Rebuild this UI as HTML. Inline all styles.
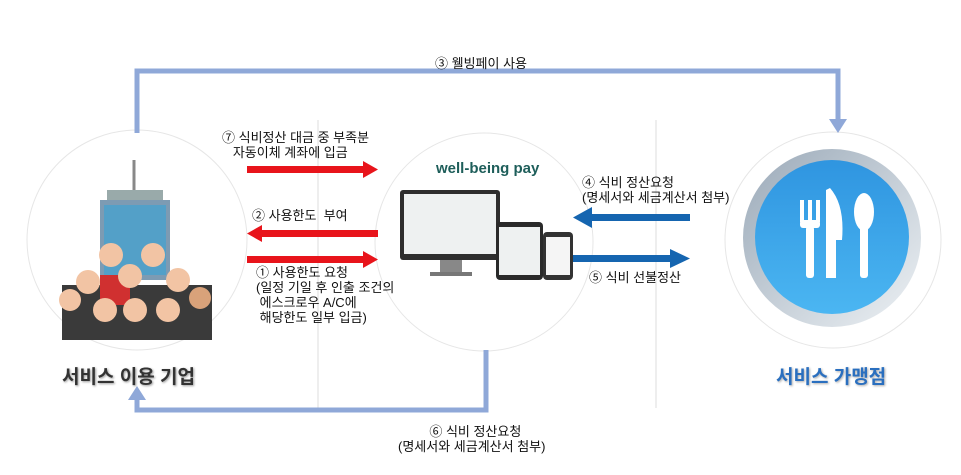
<!DOCTYPE html>
<html><head><meta charset="utf-8"><style>
body{margin:0;width:961px;height:475px;background:#fff;position:relative;overflow:hidden;font-family:"Liberation Sans","Noto Sans CJK KR",sans-serif;}
.t{position:absolute;font-size:13px;color:#111;line-height:15px;white-space:nowrap;}
</style></head><body>
<svg width="961" height="475" style="position:absolute;left:0;top:0">
<defs><linearGradient id="bg" x1="0" y1="0" x2="0" y2="1"><stop offset="0" stop-color="#2f95e0"/><stop offset="1" stop-color="#4bb6f2"/></linearGradient>
<linearGradient id="pg" x1="0" y1="0" x2="1" y2="1"><stop offset="0" stop-color="#9aa9b8"/><stop offset="1" stop-color="#eef2f5"/></linearGradient></defs>
<line x1="318" y1="120" x2="318" y2="408" stroke="#ddd" stroke-width="1"/>
<line x1="656" y1="120" x2="656" y2="408" stroke="#ddd" stroke-width="1"/>
<circle cx="137" cy="240" r="110" fill="#fff" stroke="#e6e6e6"/>
<circle cx="484" cy="242" r="109" fill="#fff" stroke="#e6e6e6"/>
<circle cx="833" cy="240" r="108" fill="#fff" stroke="#e6e6e6"/>
<path d="M137 133 V71 H838 V120" fill="none" stroke="#8fa8d8" stroke-width="5"/>
<polygon points="829,119 847,119 838,133" fill="#8fa8d8"/>
<path d="M486 350 V410 H137 V398" fill="none" stroke="#8fa8d8" stroke-width="5"/>
<polygon points="128,400 146,400 137,386" fill="#8fa8d8"/>
<rect x="247" y="166" width="118" height="7" fill="#e8141b"/><polygon points="363,161 378,169.5 363,178" fill="#e8141b"/>
<rect x="260" y="230" width="118" height="7" fill="#e8141b"/><polygon points="262,225 247,233.5 262,242" fill="#e8141b"/>
<rect x="247" y="256" width="118" height="7" fill="#e8141b"/><polygon points="363,251 378,259.5 363,268" fill="#e8141b"/>
<rect x="590" y="214" width="100" height="7" fill="#1565b0"/><polygon points="592,207 573,217.5 592,228" fill="#1565b0"/>
<rect x="573" y="255" width="100" height="7" fill="#1565b0"/><polygon points="670,249 690,258.5 670,268" fill="#1565b0"/>
<line x1="134" y1="160" x2="134" y2="190" stroke="#888" stroke-width="3"/>
<rect x="107" y="190" width="56" height="10" fill="#9aa"/>
<rect x="100" y="200" width="70" height="80" fill="#7d9bb3"/>
<rect x="104" y="205" width="62" height="70" fill="#37a3d6" opacity=".6"/>
<g>
<rect x="62" y="285" width="150" height="55" fill="#3a3a3a"/>
<rect x="100" y="275" width="30" height="30" fill="#d03030"/>
<circle cx="111" cy="255" r="12" fill="#f2c4a4"/><circle cx="153" cy="255" r="12" fill="#f2c4a4"/>
<circle cx="88" cy="282" r="12" fill="#f2c4a4"/><circle cx="178" cy="280" r="12" fill="#f2c4a4"/>
<circle cx="130" cy="276" r="12" fill="#f2c4a4"/><circle cx="70" cy="300" r="11" fill="#f2c4a4"/>
<circle cx="200" cy="298" r="11" fill="#d9a27a"/><circle cx="105" cy="310" r="12" fill="#f2c4a4"/>
<circle cx="135" cy="310" r="12" fill="#f2c4a4"/><circle cx="168" cy="310" r="12" fill="#f2c4a4"/>
</g>
<rect x="400" y="190" width="100" height="70" rx="3" fill="#2e2e2e"/>
<rect x="404" y="194" width="92" height="60" fill="#eef1f1"/>
<rect x="440" y="260" width="22" height="12" fill="#888"/>
<rect x="430" y="272" width="42" height="4" fill="#777"/>
<rect x="496" y="222" width="47" height="58" rx="4" fill="#2a2a2a"/>
<rect x="499" y="227" width="41" height="48" fill="#eef1f1"/>
<rect x="543" y="232" width="30" height="48" rx="4" fill="#333"/>
<rect x="546" y="237" width="24" height="38" fill="#f5f5f5"/>
<circle cx="832" cy="238" r="89" fill="url(#pg)"/>
<circle cx="832" cy="237" r="77" fill="url(#bg)"/>
<g fill="#fff">
<rect x="800" y="200" width="4" height="22"/><rect x="808" y="200" width="4" height="22"/><rect x="816" y="200" width="4" height="22"/>
<rect x="800" y="220" width="20" height="8" rx="3"/><rect x="806" y="226" width="8" height="52" rx="3"/>
<path d="M830 188 Q845 205 842 240 L836 240 L836 278 L826 278 L826 190Z"/>
<ellipse cx="864" cy="212" rx="10" ry="19"/><rect x="860" y="225" width="8" height="53" rx="3"/>
</g>
</svg>
<div class="t" style="left:435px;top:56px">③ 웰빙페이 사용</div>
<div class="t" style="left:222px;top:130px">⑦ 식비정산 대금 중 부족분<br>&nbsp;&nbsp;&nbsp;자동이체 계좌에 입금</div>
<div class="t" style="left:252px;top:208px">② 사용한도&nbsp; 부여</div>
<div class="t" style="left:256px;top:265px">① 사용한도 요청<br>(일정 기일 후 인출 조건의<br>&nbsp;에스크로우 A/C에<br>&nbsp;해당한도 일부 입금)</div>
<div class="t" style="left:582px;top:175px">④ 식비 정산요청<br>(명세서와 세금계산서 첨부)</div>
<div class="t" style="left:589px;top:270px">⑤ 식비 선불정산</div>
<div class="t" style="left:398px;top:424px;text-align:center">&nbsp;&nbsp;⑥ 식비 정산요청<br>(명세서와 세금계산서 첨부)</div>
<div style="position:absolute;left:436px;top:160px;font-size:15px;font-weight:bold;color:#1e5e5a;">well-being pay</div>
<div style="position:absolute;left:62px;top:362px;font-size:19px;font-weight:bold;color:#333;text-shadow:1px 1px 2px #999;">서비스 이용 기업</div>
<div style="position:absolute;left:776px;top:362px;font-size:19px;font-weight:bold;color:#2a6fbf;text-shadow:1px 1px 2px #aaa;">서비스 가맹점</div>
</body></html>
